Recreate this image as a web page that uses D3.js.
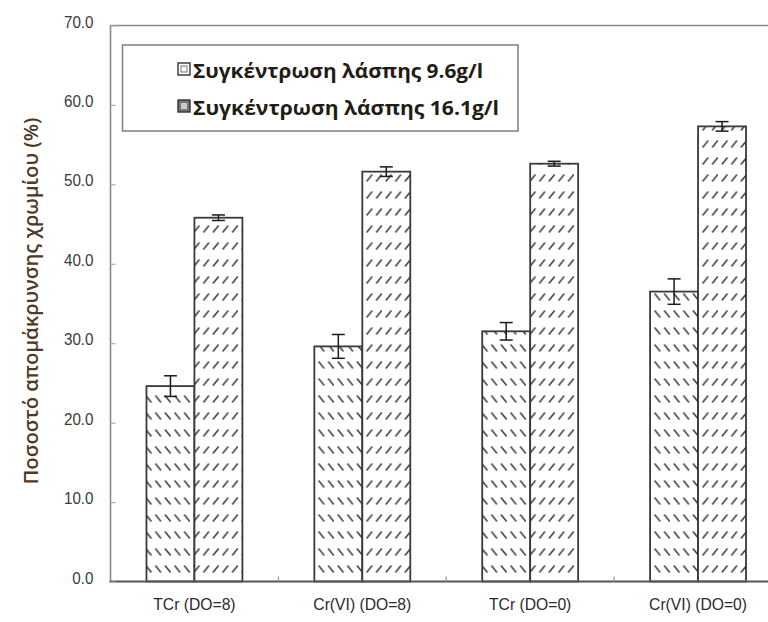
<!DOCTYPE html>
<html>
<head>
<meta charset="utf-8">
<script src="https://cdn.jsdelivr.net/npm/d3@7"></script>
<style>
  html, body { margin: 0; padding: 0; background: #fff; }
  svg { display: block; }
</style>
</head>
<body>
<svg id="chart" width="768" height="622"></svg>
<script>
// Chromium removal (%) by condition and sludge concentration
const categories = ["TCr (DO=8)", "Cr(VI) (DO=8)", "TCr (DO=0)", "Cr(VI) (DO=0)"];
const seriesNames = ["Συγκέντρωση λάσπης 9.6g/l", "Συγκέντρωση λάσπης 16.1g/l"];
const lowSludge = [24.6, 29.6, 31.5, 36.5];
const lowSludgeErr = [1.3, 1.5, 1.1, 1.6];
const highSludge = [45.8, 51.6, 52.6, 57.3];
const highSludgeErr = [0.35, 0.6, 0.3, 0.6];
const yTicks = [0, 10, 20, 30, 40, 50, 60, 70];
const yTitle = "Ποσοστό απομάκρυνσης χρωμίου (%)";

const svg = d3.select("#chart");
const plotL = 110.5, plotR = 782, plotT = 25.5, plotB = 581.5;

const x0 = d3.scaleBand().domain(categories).range([plotL, plotR]).padding(0);
const x1 = d3.scaleBand().domain([0, 1]).range([0, x0.bandwidth()]).paddingInner(0).paddingOuter(0.75);
const y = d3.scaleLinear().domain([0, 70]).range([plotB, plotT]);

// hatch patterns
const defs = svg.append("defs");
function hatch(id, back) {
  const p = defs.append("pattern").attr("id", id)
    .attr("patternUnits", "userSpaceOnUse")
    .attr("width", 9.6).attr("height", 17)
    .attr("x", 0).attr("y", 2);
  p.append("rect").attr("width", 9.6).attr("height", 17).attr("fill", "#fff");
  p.append("line")
    .attr("x1", 1.8).attr("x2", 7.4)
    .attr("y1", back ? 2.5 : 9.5).attr("y2", back ? 9.5 : 2.5)
    .attr("stroke", "#4a4a4a").attr("stroke-width", 1.7);
}
hatch("hatchA", true);
hatch("hatchB", false);

// plot frame (top + left)
svg.append("path")
  .attr("d", `M${plotL},${plotB}V${plotT}H${plotR}`)
  .attr("fill", "none").attr("stroke", "#8a8a8a").attr("stroke-width", 1.6);

const series = [
  { vals: lowSludge, err: lowSludgeErr, fill: "url(#hatchA)" },
  { vals: highSludge, err: highSludgeErr, fill: "url(#hatchB)" }
];

series.forEach((s, si) => {
  const g = svg.append("g");
  g.selectAll("rect").data(categories).join("rect")
    .attr("x", d => x0(d) + x1(si))
    .attr("y", (d, i) => y(s.vals[i]))
    .attr("width", x1.bandwidth())
    .attr("height", (d, i) => y(0) - y(s.vals[i]))
    .attr("fill", s.fill)
    .attr("stroke", "#3a3a3a").attr("stroke-width", 1.8);
});

// error bars
series.forEach((s, si) => {
  categories.forEach((c, i) => {
    const cx = x0(c) + x1(si) + x1.bandwidth() / 2;
    const y1 = y(s.vals[i] + s.err[i]), y2 = y(s.vals[i] - s.err[i]);
    const g = svg.append("g").attr("stroke", "#1a1a1a").attr("stroke-width", 1.5);
    g.append("line").attr("x1", cx).attr("x2", cx).attr("y1", y1).attr("y2", y2);
    g.append("line").attr("x1", cx - 6.5).attr("x2", cx + 6.5).attr("y1", y1).attr("y2", y1);
    g.append("line").attr("x1", cx - 6.5).attr("x2", cx + 6.5).attr("y1", y2).attr("y2", y2);
  });
});

// baseline
svg.append("line")
  .attr("x1", plotL - 1).attr("x2", plotR).attr("y1", plotB).attr("y2", plotB)
  .attr("stroke", "#555").attr("stroke-width", 1.8);

// category separators (inside ticks)
svg.append("g").selectAll("line").data(categories.slice(1)).join("line")
  .attr("x1", d => x0(d)).attr("x2", d => x0(d))
  .attr("y1", plotB).attr("y2", plotB - 5)
  .attr("stroke", "#999").attr("stroke-width", 1.2);

// y axis
const yAxis = d3.axisLeft(y).tickValues(yTicks).tickFormat(d3.format(".1f"))
  .tickSizeInner(-5).tickSizeOuter(0).tickPadding(17);
const ya = svg.append("g").attr("transform", `translate(${plotL},0)`).call(yAxis);
ya.select(".domain").remove();
ya.selectAll(".tick line").attr("stroke", "#aaa").attr("stroke-width", 1.2);
ya.selectAll(".tick text")
  .attr("font-family", "Liberation Sans, Arial, sans-serif")
  .attr("font-size", 16).attr("fill", "#3a3a3a").attr("dy", "0.1em")
  .attr("textLength", function () { return this.getComputedTextLength() * 0.95; })
  .attr("lengthAdjust", "spacingAndGlyphs");

// x axis labels
const xAxis = d3.axisBottom(x0).tickSize(0).tickPadding(17);
const xa = svg.append("g").attr("transform", `translate(0,${plotB})`).call(xAxis);
xa.select(".domain").remove();
xa.selectAll(".tick text")
  .attr("font-family", "Liberation Sans, Arial, sans-serif")
  .attr("font-size", 16.5).attr("fill", "#2a2a2a")
  .attr("textLength", function () { return this.getComputedTextLength() * 0.95; })
  .attr("lengthAdjust", "spacingAndGlyphs");

// y title
svg.append("text")
  .attr("transform", "translate(31,301) rotate(-90)")
  .attr("text-anchor", "middle").attr("dominant-baseline", "central")
  .attr("font-family", "Open Sans, sans-serif").attr("font-size", 19).attr("font-weight", 600)
  .attr("textLength", 367).attr("lengthAdjust", "spacingAndGlyphs")
  .attr("fill", "#4e3a26")
  .text(yTitle);

// legend
const lg = svg.append("g");
lg.append("rect").attr("x", 122.5).attr("y", 45).attr("width", 395.5).attr("height", 86)
  .attr("fill", "#fff").attr("stroke", "#7f7f7f").attr("stroke-width", 1.5);
const legendRows = [69, 106];
const legendLens = [290, 306];
seriesNames.forEach((name, i) => {
  const cy = legendRows[i];
  lg.append("rect").attr("x", 178).attr("y", cy - 6).attr("width", 12).attr("height", 12)
    .attr("fill", i === 0 ? "#fff" : "#777").attr("stroke", "#333").attr("stroke-width", 1.4);
  lg.append("rect").attr("x", 181).attr("y", cy - 3).attr("width", 6).attr("height", 6)
    .attr("fill", i === 0 ? "#fff" : "#ccc").attr("stroke", i === 0 ? "#777" : "none").attr("stroke-width", 1);
  lg.append("text").attr("x", 193).attr("y", cy + 1)
    .attr("dominant-baseline", "central")
    .attr("font-family", "Open Sans, sans-serif").attr("font-weight", 700).attr("font-size", 20)
    .attr("textLength", legendLens[i]).attr("lengthAdjust", "spacingAndGlyphs")
    .attr("fill", "#231c14")
    .text(name);
});
</script>
</body>
</html>
